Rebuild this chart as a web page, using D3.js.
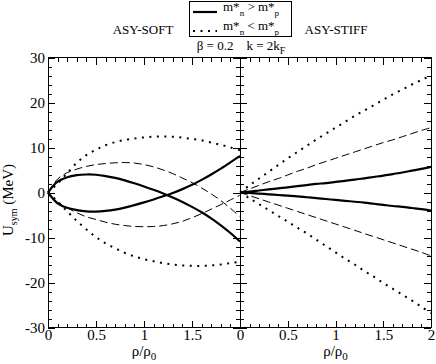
<!DOCTYPE html>
<meta charset="utf-8">
<style>
body { margin: 0; background: #fff; }
text { font-family: "Liberation Serif", "DejaVu Serif", serif; fill: #000; }
.axis path { stroke: none; }
.axis line { stroke: #000; stroke-width: 1; shape-rendering: crispEdges; }
.axis text { font-size: 15px; font-family: "Liberation Serif", "DejaVu Serif", serif; }
</style>
<body>
<svg width="436" height="364"></svg>
<script src="https://d3js.org/d3.v7.min.js"></script>
<script>

// density grid (rho/rho0)
var rho = [0, 0.1, 0.2, 0.3, 0.4, 0.5, 0.6, 0.7, 0.8, 0.9, 1.0,
           1.1, 1.2, 1.3, 1.4, 1.5, 1.6, 1.7, 1.8, 1.9, 2.0];

// ASY-SOFT panel (MeV)
var softSolidA  = [0, 2.4, 3.4, 3.85, 4.0, 3.95, 3.65, 3.25, 2.7, 2.05, 1.35,
                   0.6, -0.2, -1.1, -2.1, -3.2, -4.4, -5.75, -7.3, -9.0, -10.9];
var softSolidB  = [0, -2.4, -3.4, -3.9, -4.2, -4.25, -4.1, -3.8, -3.35, -2.8, -2.2,
                   -1.55, -0.85, -0.1, 0.75, 1.7, 2.8, 4.0, 5.3, 6.7, 8.15];
var softDashA   = [0, 3.0, 4.4, 5.2, 5.8, 6.2, 6.45, 6.6, 6.65, 6.55, 6.2,
                   5.7, 5.0, 4.2, 3.2, 2.2, 1.0, -0.3, -1.8, -3.5, -5.4];
var softDashB   = [0, -2.2, -3.4, -4.5, -5.4, -6.0, -6.6, -7.05, -7.35, -7.55, -7.6,
                   -7.55, -7.35, -6.95, -6.4, -5.6, -4.7, -3.7, -2.7, -1.65, -0.6];
var softDotA    = [0, 2.0, 4.3, 6.6, 8.3, 9.5, 10.5, 11.2, 11.7, 12.0, 12.25,
                   12.4, 12.45, 12.4, 12.2, 11.9, 11.6, 11.1, 10.6, 10.0, 9.4];
var softDotB    = [0, -2.0, -4.2, -6.3, -8.2, -9.9, -11.3, -12.4, -13.4, -14.2, -14.8,
                   -15.3, -15.7, -16.0, -16.2, -16.3, -16.3, -16.2, -16.0, -15.7, -15.4];

// ASY-STIFF panel (MeV)
var stiffSolidA = [0, 0.2, 0.45, 0.7, 0.92, 1.15, 1.4, 1.65, 1.9, 2.1, 2.35,
                   2.6, 2.85, 3.15, 3.45, 3.75, 4.1, 4.45, 4.85, 5.25, 5.7];
var stiffSolidB = [0, -0.1, -0.25, -0.4, -0.55, -0.7, -0.85, -1.05, -1.25, -1.45, -1.65,
                   -1.85, -2.05, -2.25, -2.5, -2.75, -3.0, -3.2, -3.45, -3.7, -4.0];
var stiffDashA  = [0, 0.8, 1.6, 2.4, 3.1, 3.9, 4.7, 5.4, 6.2, 6.9, 7.6,
                   8.3, 9.0, 9.7, 10.4, 11.1, 11.7, 12.4, 13.1, 13.8, 14.4];
var stiffDashB  = [0, -0.7, -1.4, -2.1, -2.8, -3.5, -4.2, -4.9, -5.6, -6.3, -7.0,
                   -7.7, -8.4, -9.1, -9.8, -10.5, -11.2, -11.9, -12.6, -13.3, -14.1];
var stiffDotA   = [0, 1.6, 3.1, 4.6, 6.1, 7.6, 9.0, 10.4, 11.8, 13.1, 14.4,
                   15.7, 17.0, 18.2, 19.4, 20.6, 21.8, 22.9, 24.0, 25.0, 26.0];
var stiffDotB   = [0, -1.3, -2.6, -3.9, -5.2, -6.5, -7.8, -9.1, -10.5, -11.9, -13.3,
                   -14.7, -16.0, -17.4, -18.7, -20.1, -21.4, -22.7, -24.0, -25.4, -26.8];

var yTicks = [-30, -20, -10, 0, 10, 20, 30];
var xTicksLeft = [0, 0.5, 1, 1.5];
var xTicksRight = [0, 0.5, 1, 1.5, 2];

var svg = d3.select("svg");

var yTop = 57.5, yBot = 327.5;
var y = d3.scaleLinear().domain([-30, 30]).range([yBot, yTop]);
var xL = d3.scaleLinear().domain([0, 2]).range([48, 240]);
var xR = d3.scaleLinear().domain([0, 2]).range([240, 431]);

var styles = {
    solid: {w: 2.2, dash: null},
    dash:  {w: 1, dash: "8,4"},
    dot:   {w: 2, dash: "2,5.5"}
};

function drawPanel(x, series, xTicks, showY) {
    var g = svg.append("g");
    var minorX = d3.range(0, 2.001, 0.1);
    var minorY = d3.range(-30, 30.001, 2);

    // minor ticks
    g.append("g").attr("class", "axis").attr("transform", "translate(0," + yBot + ")")
        .call(d3.axisBottom(x).tickValues(minorX).tickSize(-4).tickFormat(""));
    g.append("g").attr("class", "axis").attr("transform", "translate(0," + yTop + ")")
        .call(d3.axisTop(x).tickValues(minorX).tickSize(-4).tickFormat(""));
    g.append("g").attr("class", "axis").attr("transform", "translate(" + x.range()[0] + ",0)")
        .call(d3.axisLeft(y).tickValues(minorY).tickSize(-4).tickFormat(""));
    g.append("g").attr("class", "axis").attr("transform", "translate(" + x.range()[1] + ",0)")
        .call(d3.axisRight(y).tickValues(minorY).tickSize(-4).tickFormat(""));

    // major ticks
    g.append("g").attr("class", "axis").attr("transform", "translate(0," + yBot + ")")
        .call(d3.axisBottom(x).tickValues(xTicks).tickSize(-7).tickPadding(2)
            .tickFormat(function(d) { return String(d); }));
    g.append("g").attr("class", "axis").attr("transform", "translate(0," + yTop + ")")
        .call(d3.axisTop(x).tickValues([0, 0.5, 1, 1.5, 2]).tickSize(-7).tickFormat(""));
    g.append("g").attr("class", "axis").attr("transform", "translate(" + x.range()[0] + ",0)")
        .call(d3.axisLeft(y).tickValues(yTicks).tickSize(-7).tickPadding(3)
            .tickFormat(showY ? function(d) { return String(d); } : ""));
    g.append("g").attr("class", "axis").attr("transform", "translate(" + x.range()[1] + ",0)")
        .call(d3.axisRight(y).tickValues(yTicks).tickSize(-7).tickFormat(""));

    g.append("rect")
        .attr("x", x.range()[0]).attr("y", yTop)
        .attr("width", x.range()[1] - x.range()[0]).attr("height", yBot - yTop)
        .attr("fill", "none").attr("stroke", "#000").attr("stroke-width", 1)
        .attr("shape-rendering", "crispEdges");

    var line = d3.line()
        .x(function(d) { return x(d[0]); })
        .y(function(d) { return y(d[1]); })
        .curve(d3.curveCatmullRom);

    series.forEach(function(s) {
        var st = styles[s.style];
        g.append("path")
            .datum(d3.zip(rho, s.values))
            .attr("fill", "none")
            .attr("stroke", "#000")
            .attr("stroke-width", st.w)
            .attr("stroke-dasharray", st.dash)
            .attr("d", line);
    });

    g.append("text")
        .attr("x", (x.range()[0] + x.range()[1]) / 2)
        .attr("y", 356)
        .attr("text-anchor", "middle")
        .style("font-size", "15px")
        .html("ρ/ρ<tspan dy='4' font-size='11px'>0</tspan>");
}

drawPanel(xL, [
    {values: softSolidA, style: "solid"},
    {values: softSolidB, style: "solid"},
    {values: softDashA, style: "dash"},
    {values: softDashB, style: "dash"},
    {values: softDotA, style: "dot"},
    {values: softDotB, style: "dot"}
], xTicksLeft, true);

drawPanel(xR, [
    {values: stiffSolidA, style: "solid"},
    {values: stiffSolidB, style: "solid"},
    {values: stiffDashA, style: "dash"},
    {values: stiffDashB, style: "dash"},
    {values: stiffDotA, style: "dot"},
    {values: stiffDotB, style: "dot"}
], xTicksRight, false);

// y axis title
svg.append("text")
    .attr("transform", "translate(13,200) rotate(-90)")
    .attr("text-anchor", "middle")
    .style("font-size", "15px")
    .html("U<tspan dy='4' font-size='10px'>sym</tspan><tspan dy='-4'> (MeV)</tspan>");

// headers
svg.append("text").attr("x", 143).attr("y", 34).attr("text-anchor", "middle")
    .style("font-size", "13px").text("ASY-SOFT");
svg.append("text").attr("x", 336).attr("y", 34).attr("text-anchor", "middle")
    .style("font-size", "13px").text("ASY-STIFF");
svg.append("text").attr("x", 241).attr("y", 50).attr("text-anchor", "middle")
    .style("font-size", "13px")
    .html("β = 0.2 &#160;&#160; k = 2k<tspan dy='4' font-size='10px'>F</tspan>");

// legend
var leg = svg.append("g");
leg.append("rect").attr("x", 189.5).attr("y", 1.5).attr("width", 102).attr("height", 35)
    .attr("fill", "#fff").attr("stroke", "#000").attr("stroke-width", 1);
var legItems = [
    {style: "solid", sign: ">", yy: 12},
    {style: "dot", sign: "<", yy: 31}
];
legItems.forEach(function(it) {
    var st = styles[it.style];
    leg.append("line")
        .attr("x1", 193).attr("x2", 217).attr("y1", it.yy).attr("y2", it.yy)
        .attr("stroke", "#000").attr("stroke-width", st.w)
        .attr("stroke-dasharray", st.dash);
    leg.append("text").attr("x", 223).attr("y", it.yy - 1)
        .style("font-size", "13px")
        .html("m*<tspan dy='5' font-size='9px'>n</tspan><tspan dy='-5'> " +
              (it.sign === ">" ? "&gt;" : "&lt;") +
              " m*</tspan><tspan dy='5' font-size='9px'>p</tspan>");
});

</script>
</body>
